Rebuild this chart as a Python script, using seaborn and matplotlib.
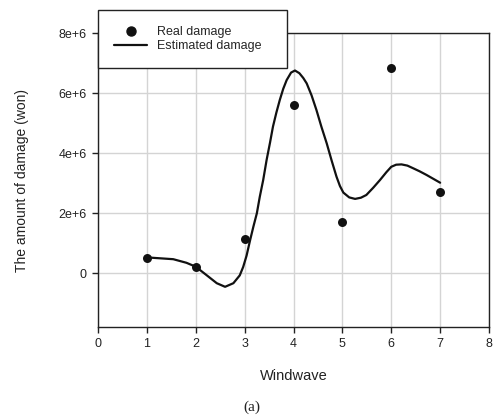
import matplotlib
matplotlib.use("Agg")
import matplotlib.pyplot as plt
import seaborn as sns
import pandas as pd
from matplotlib.ticker import FuncFormatter, FixedLocator
from matplotlib.lines import Line2D

# Real damage observations
windwave = [1, 2, 3, 4, 5, 6, 7]
real_damage = [0.51e6, 0.19e6, 1.14e6, 5.59e6, 1.69e6, 6.82e6, 2.69e6]

# Estimated damage curve
est_x = [1.00, 1.27, 1.54, 1.81, 2.00, 2.22, 2.43, 2.60, 2.77, 2.90, 2.97, 3.04,
         3.11, 3.18, 3.25, 3.31, 3.38, 3.45, 3.52, 3.58, 3.65, 3.72, 3.79, 3.86,
         3.95, 4.03, 4.12, 4.20, 4.27, 4.37, 4.47, 4.57, 4.68, 4.78, 4.88, 4.95,
         5.02, 5.14, 5.26, 5.38, 5.49, 5.63, 5.77, 5.90, 6.00, 6.10, 6.21, 6.33,
         6.45, 6.58, 6.72, 6.86, 7.00]
est_y = [0.52e6, 0.49e6, 0.46e6, 0.34e6, 0.21e6, -0.07e6, -0.34e6, -0.46e6, -0.34e6, -0.08e6, 0.20e6, 0.58e6,
         1.08e6, 1.55e6, 1.99e6, 2.54e6, 3.10e6, 3.77e6, 4.35e6, 4.88e6, 5.35e6, 5.77e6, 6.14e6, 6.43e6,
         6.68e6, 6.75e6, 6.66e6, 6.50e6, 6.32e6, 5.92e6, 5.43e6, 4.88e6, 4.32e6, 3.75e6, 3.21e6, 2.90e6,
         2.68e6, 2.52e6, 2.47e6, 2.51e6, 2.60e6, 2.84e6, 3.10e6, 3.36e6, 3.54e6, 3.61e6, 3.62e6, 3.58e6,
         3.49e6, 3.39e6, 3.27e6, 3.14e6, 3.01e6]

x_ticks = [0, 1, 2, 3, 4, 5, 6, 7, 8]
y_ticks = [0, 2e6, 4e6, 6e6, 8e6]

sns.set_theme(style="white")
plt.rcParams['font.family'] = ['Liberation Sans', 'DejaVu Sans']

real_df = pd.DataFrame({"x": windwave, "y": real_damage})
est_df = pd.DataFrame({"x": est_x, "y": est_y})

fig = plt.figure(figsize=(4.95, 4.17), dpi=100)
ax = fig.add_axes([98/495, 1 - 327/417, (489-98)/495, (327-33)/417])

ax.grid(True, color="#d4d4d4", linewidth=1.0)
ax.set_axisbelow(True)

sns.lineplot(data=est_df, x="x", y="y", sort=False, color="#111111", linewidth=1.6, ax=ax)
sns.scatterplot(data=real_df, x="x", y="y", color="#111111", s=42, edgecolor="#111111", linewidth=0, ax=ax, zorder=3)

ax.set_xlim(0, 8)
ax.set_ylim(-1.8e6, 8e6)
ax.xaxis.set_major_locator(FixedLocator(x_ticks))
ax.yaxis.set_major_locator(FixedLocator(y_ticks))
ax.yaxis.set_major_formatter(FuncFormatter(lambda v, p: "0" if v == 0 else f"{int(round(v/1e6))}e+6"))

for s in ax.spines.values():
    s.set_visible(True)
    s.set_color("#222222")
    s.set_linewidth(1.0)

ax.tick_params(axis="both", which="major", direction="out", length=4, width=1,
               color="#222222", labelsize=9, labelcolor="#222222", pad=4,
               bottom=True, left=True)
ax.set_xlabel("Windwave", fontsize=10.5, color="#222222")
ax.set_ylabel("The amount of damage (won)", fontsize=10, color="#222222")
ax.xaxis.set_label_coords(0.5, (327 - 376) / 294, transform=ax.transAxes)
ax.yaxis.set_label_coords((22 - 98) / 391, 0.5, transform=ax.transAxes)
ax.xaxis.label.set_va("center")
ax.yaxis.label.set_va("center")

handles = [Line2D([], [], marker="o", linestyle="none", color="#111111", markersize=6.5),
           Line2D([], [], color="#111111", linewidth=1.6)]
leg = fig.legend(handles, ["Real damage", "Estimated damage"], loc="upper left",
                 bbox_to_anchor=(98/495, 1 - 10/417, (287-98)/495, 0.0), mode="expand",
                 fontsize=9, frameon=True, fancybox=False, framealpha=1, edgecolor="#222222",
                 handlelength=2.6, handletextpad=0.85, borderpad=1.3, labelspacing=0.15,
                 borderaxespad=0)
leg.get_frame().set_linewidth(1.0)

fig.text(252/495, 1 - 407/417, "(a)", ha="center", va="center", fontsize=11,
         family="Liberation Serif", color="#222222")

fig.savefig("out.png", dpi=100)
